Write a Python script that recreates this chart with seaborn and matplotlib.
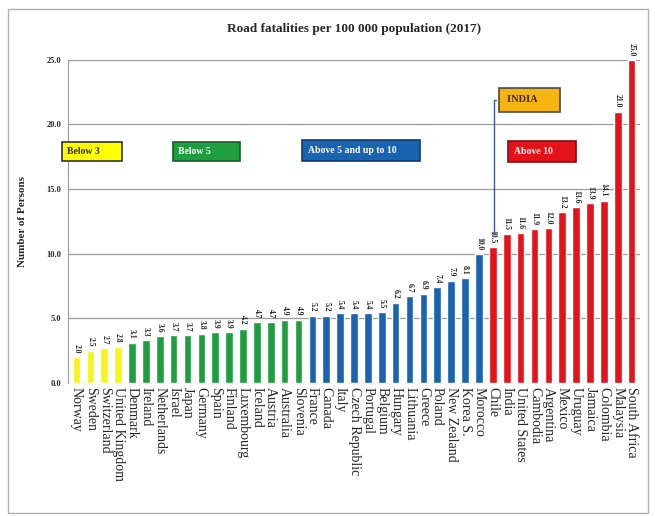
import matplotlib
matplotlib.use("Agg")
import matplotlib.pyplot as plt
import seaborn as sns
import pandas as pd

# data
countries = ["Norway", "Sweden", "Switzerland", "United Kingdom",
             "Denmark", "Ireland", "Netherlands", "Israel", "Japan", "Germany",
             "Spain", "Finland", "Luxembourg", "Iceland", "Austria", "Australia", "Slovenia",
             "France", "Canada", "Italy", "Czech Republic", "Portugal", "Belgium", "Hungary",
             "Lithuania", "Greece", "Poland", "New Zealand", "Korea S.", "Morocco",
             "Chile", "India", "United States", "Cambodia", "Argentina", "Mexico",
             "Uruguay", "Jamaica", "Colombia", "Malaysia", "South Africa"]
rates = [2.0, 2.5, 2.7, 2.8,
         3.1, 3.3, 3.6, 3.7, 3.7, 3.8, 3.9, 3.9, 4.2, 4.7, 4.7, 4.9, 4.9,
         5.2, 5.2, 5.4, 5.4, 5.4, 5.5, 6.2, 6.7, 6.9, 7.4, 7.9, 8.1, 10.0,
         10.5, 11.5, 11.6, 11.9, 12.0, 13.2, 13.6, 13.9, 14.1, 21.0, 25.0]
groups = ["Below 3"] * 4 + ["Below 5"] * 13 + ["Above 5 and up to 10"] * 13 + ["Above 10"] * 11
group_colors = {"Below 3": "#f5f51a", "Below 5": "#1f9e3f",
                "Above 5 and up to 10": "#1a63b0", "Above 10": "#e3121b"}

df = pd.DataFrame({"Country": countries, "Rate": rates, "Group": groups})

sns.set_style("white")
plt.rcParams["font.family"] = ["Liberation Serif", "DejaVu Serif"]

fig = plt.figure(figsize=(6.55, 5.16), dpi=100)
ax = fig.add_axes([0.104, 0.258, 0.873, 0.626])

sns.barplot(data=df, x="Country", y="Rate", hue="Group", palette=group_colors,
            dodge=False, width=0.55, legend=False, ax=ax, saturation=1)

ax.set_ylim(0, 25)
ax.set_xlim(-0.6, len(countries) - 0.4)
ax.set_yticks([0, 5, 10, 15, 20, 25])
ax.set_yticklabels([f"{v:.1f}" for v in [0, 5, 10, 15, 20, 25]], fontsize=6, fontweight="bold")
ax.tick_params(axis="y", length=3, pad=2)
ax.tick_params(axis="x", length=0, pad=3)
ax.set_xticks(range(len(countries)))
ax.set_xticklabels(countries, rotation=270, fontsize=10)
ax.yaxis.grid(True, color="#9a9a9a", linewidth=0.9)
ax.set_axisbelow(True)
for s in ["top", "right", "bottom"]:
    ax.spines[s].set_visible(False)
ax.spines["left"].set_color("#9a9a9a")
ax.set_xlabel("")
ax.set_ylabel("Number of Persons", fontsize=8, fontweight="bold", labelpad=14)
ax.set_title("Road fatalities per 100 000 population (2017)", fontsize=9.5,
             fontweight="bold", pad=20)

for i, v in enumerate(rates):
    ax.text(i, v + 0.3, f"{v:.1f}", rotation=270, ha="center", va="bottom",
            fontsize=5.5, fontweight="bold", clip_on=False)

box_kw = dict(fontsize=7, fontweight="bold", ha="left", va="center")
ax.text(-0.7, 17.9, "Below 3       ", color="#333300",
        bbox=dict(boxstyle="square,pad=0.5", fc="#ffff00", ec="#333333", lw=1.2), **box_kw)
ax.text(7.3, 17.9, "Below 5          ", color="white",
        bbox=dict(boxstyle="square,pad=0.5", fc="#1f9e3f", ec="#1a5a30", lw=1.2), **box_kw)
ax.text(16.7, 18.0, "Above 5 and up to 10       ", color="white",
        bbox=dict(boxstyle="square,pad=0.6", fc="#1a63b0", ec="#0e3c70", lw=1.2), **box_kw)
ax.text(31.5, 17.9, "Above 10       ", color="white",
        bbox=dict(boxstyle="square,pad=0.6", fc="#e3121b", ec="#801010", lw=1.2), **box_kw)
ax.annotate("INDIA      ", xy=(30.1, 11.3), xytext=(31.0, 21.9), fontsize=7.5,
            fontweight="bold", color="#3a2a00", ha="left", va="center",
            bbox=dict(boxstyle="square,pad=0.7", fc="#f5b40f", ec="#4a4a4a", lw=1.2),
            arrowprops=dict(arrowstyle="-", color="#3a5a8a", lw=1,
                            connectionstyle="angle,angleA=180,angleB=90,rad=0"))

# outer frame of the picture
fig.patches.append(plt.Rectangle((0.012, 0.005), 0.978, 0.978, transform=fig.transFigure,
                                 fill=False, ec="#b0b0b0", lw=1))

fig.savefig("out.png", dpi=100)
